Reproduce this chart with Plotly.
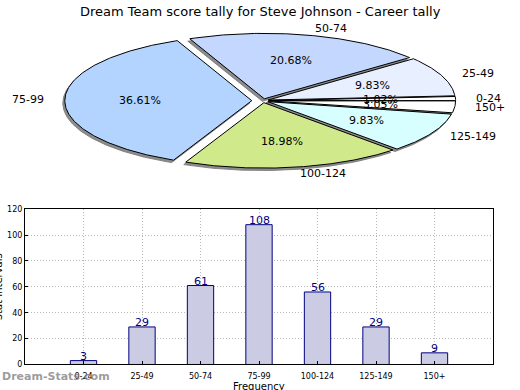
import numpy as np
import plotly.graph_objects as go

# ---- data ----
categories = ["0-24", "25-49", "50-74", "75-99", "100-124", "125-149", "150+"]
counts = [3, 29, 61, 108, 56, 29, 9]
pie_colors = ["#ffffff", "#e8f0ff", "#c4d8ff", "#b3d4ff", "#d0e98a", "#d8ffff", "#ffffff"]
explode = [0.03, 0.03, 0.03, 0.06, 0.03, 0.03, 0.03]
y_ticks = [0, 20, 40, 60, 80, 100, 120]

W, H = 520, 390
FONT = "DejaVu Sans"

# pie geometry (pixel space of the overlay axes)
cx, cy, rx, ry = 263.0, 99.0, 187.0, 67.0
shadow_dx, shadow_dy = -2.0, 2.5

fig = go.Figure()

total = float(sum(counts))
fracs = [c / total for c in counts]
starts = np.cumsum([0.0] + fracs[:-1]) * 360.0
spans = np.array(fracs) * 360.0

def wedge(a0, a1, ox, oy):
    t = np.radians(np.linspace(a0, a1, max(int(abs(a1 - a0)) * 2 + 2, 4)))
    xs = np.concatenate([[ox], ox + rx * np.cos(t), [ox]])
    ys = np.concatenate([[oy], oy - ry * np.sin(t), [oy]])
    return xs, ys

geo = []
for i, cat in enumerate(categories):
    a0, a1 = starts[i], starts[i] + spans[i]
    mid = np.radians((a0 + a1) / 2)
    ox = cx + explode[i] * rx * np.cos(mid)
    oy = cy - explode[i] * ry * np.sin(mid)
    geo.append((a0, a1, mid, ox, oy))

# shadows
for i, (a0, a1, mid, ox, oy) in enumerate(geo):
    xs, ys = wedge(a0, a1, ox + shadow_dx, oy + shadow_dy)
    fig.add_trace(go.Scatter(x=xs, y=ys, mode="lines", fill="toself",
                             fillcolor="rgba(120,120,120,0.85)",
                             line=dict(color="rgba(120,120,120,0.85)", width=1),
                             xaxis="x2", yaxis="y2", hoverinfo="skip", showlegend=False))
# slices
for i, (a0, a1, mid, ox, oy) in enumerate(geo):
    xs, ys = wedge(a0, a1, ox, oy)
    fig.add_trace(go.Scatter(x=xs, y=ys, mode="lines", fill="toself",
                             fillcolor=pie_colors[i], line=dict(color="black", width=1),
                             xaxis="x2", yaxis="y2", hoverinfo="skip", showlegend=False))

annotations = []
for i, (a0, a1, mid, ox, oy) in enumerate(geo):
    lx = ox + 1.1 * rx * np.cos(mid)
    ly = oy - 1.1 * ry * np.sin(mid)
    annotations.append(dict(x=lx, y=ly, xref="x2", yref="y2", text=categories[i],
                            showarrow=False, xanchor="left" if np.cos(mid) > 0 else "right",
                            yanchor="middle", font=dict(family=FONT, size=11, color="black")))
    px = ox + 0.6 * rx * np.cos(mid)
    py = oy - 0.6 * ry * np.sin(mid)
    annotations.append(dict(x=px, y=py, xref="x2", yref="y2",
                            text="%.2f%%" % (fracs[i] * 100), showarrow=False,
                            xanchor="center", yanchor="middle",
                            font=dict(family=FONT, size=11, color="black")))

# bar chart
xpos = list(range(len(categories)))
fig.add_trace(go.Bar(x=xpos, y=counts, width=0.45,
                     marker=dict(color="#cbcbe3", line=dict(color="#000080", width=1)),
                     xaxis="x", yaxis="y", showlegend=False, hoverinfo="skip"))
for xv, c in zip(xpos, counts):
    annotations.append(dict(x=xv, y=c, xref="x", yref="y", text=str(c), showarrow=False,
                            xanchor="center", yanchor="bottom", yshift=-4,
                            font=dict(family=FONT, size=11, color="#000080")))

annotations += [
    dict(x=0.5, y=1 - 8 / H, xref="paper", yref="paper", text="Dream Team score tally for Steve Johnson - Career tally",
         showarrow=False, xanchor="center", yanchor="middle", font=dict(family=FONT, size=13, color="black")),
    dict(x=259 / W, y=1 - 392 / H, xref="paper", yref="paper", text="Frequency", showarrow=False,
         xanchor="center", yanchor="middle", font=dict(family=FONT, size=10, color="black")),
    dict(x=-2 / W, y=1 - 290 / H, xref="paper", yref="paper", text="Stat Intervals", showarrow=False,
         textangle=-90, xanchor="center", yanchor="middle", font=dict(family=FONT, size=10, color="black")),
    dict(x=0, y=1 - 381 / H, xref="paper", yref="paper", text="<b>Dream-Stats.com</b>", showarrow=False,
         xanchor="left", yanchor="middle", font=dict(family=FONT, size=11, color="rgba(130,130,130,0.8)")),
]

fig.update_layout(
    width=W, height=H, margin=dict(l=0, r=0, t=0, b=0),
    paper_bgcolor="white", plot_bgcolor="rgba(0,0,0,0)",
    xaxis=dict(domain=[25 / W, 493 / W], range=[-1, 7], tickmode="array", tickvals=xpos,
               ticktext=categories, tickfont=dict(family=FONT, size=8, color="black"),
               ticklabelstandoff=4,
               showgrid=True, gridcolor="#b8b8b8", griddash="1px,2px", gridwidth=1,
               showline=True, linecolor="black", linewidth=1, mirror=True,
               ticks="inside", ticklen=3, tickcolor="black", zeroline=False, fixedrange=True),
    yaxis=dict(domain=[1 - 369 / H, 1 - 210 / H], range=[0, 120], tickmode="array", tickvals=y_ticks,
               tickfont=dict(family=FONT, size=8, color="black"),
               showgrid=True, gridcolor="#b8b8b8", griddash="1px,2px", gridwidth=1,
               showline=True, linecolor="black", linewidth=1, mirror=True,
               ticks="inside", ticklen=3, tickcolor="black", zeroline=False, fixedrange=True),
    xaxis2=dict(domain=[0, 1], range=[0, W], visible=False, anchor="y2", fixedrange=True),
    yaxis2=dict(domain=[0, 1], range=[H, 0], visible=False, anchor="x2", fixedrange=True),
    annotations=annotations,
    showlegend=False,
)

fig.write_html("out.html", config={"displayModeBar": False},
               post_script="document.body.style.margin='0';document.body.style.overflow='hidden';")
